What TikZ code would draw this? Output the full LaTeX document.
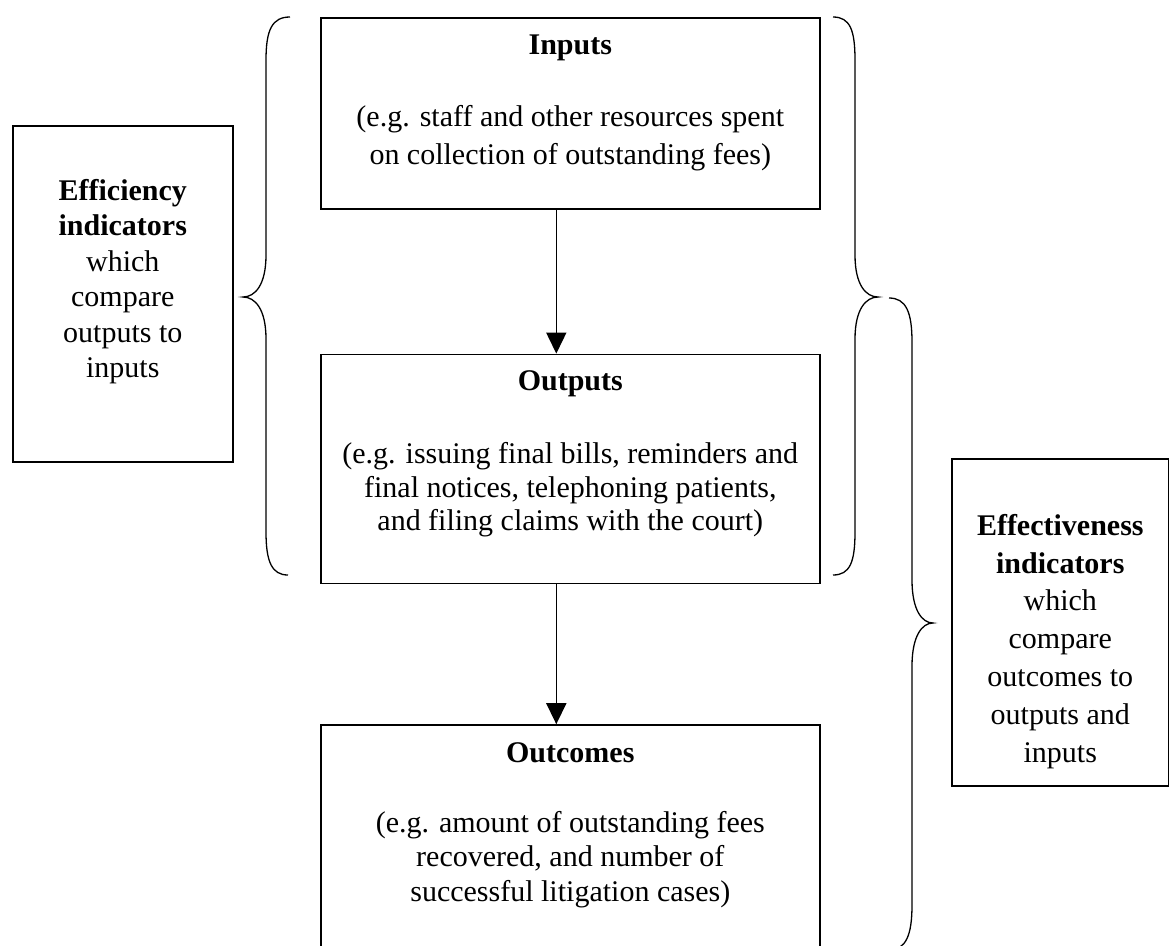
\documentclass[tikz,border=0pt]{standalone}
\usepackage{fontspec}
\setmainfont{Liberation Serif}
\usepackage{tikz}
\usetikzlibrary{arrows.meta, positioning, calc}

\begin{document}
\begin{tikzpicture}[x=1pt, y=-1pt, >={Triangle[width=20pt, length=21pt]}, every node/.style={font=\fontsize{30}{35.5}\selectfont}]
    % styles: plain framed boxes, text blocks and brace strokes
    \tikzset{
        frame/.style={draw, rectangle, line width=1.6pt, inner sep=0pt},
        stage/.style={frame, minimum width=499pt},
        txt/.style={align=center, inner sep=0pt, anchor=north},
        skip/.style={font=\fontsize{30}{#1}\selectfont},
        brc/.style={line width=1.3pt}
    }
    % page of the reference size
    \useasboundingbox (0,0) rectangle (1169,945);
    \fill[white] (0,0) rectangle (1169,945);
    % the three stage boxes
    \node[stage, minimum height=191pt, anchor=north west] (inputs) at (320,17) {};
    \node[stage, minimum height=229pt, below=144pt of inputs] (outputs) {};
    \node[stage, minimum height=260pt, below=140pt of outputs] (outcomes) {};
    % indicator boxes at the sides
    \node[frame, minimum width=220pt, minimum height=336pt, anchor=north west] (effic) at (12,125) {};
    \node[frame, minimum width=217pt, minimum height=327pt, anchor=north west] (effect) at (951,458) {};
    % texts, hung from the top of each box
    \node[txt, skip=38pt, below=18pt of inputs.north] (inputs-txt) {\textbf{Inputs}\\[34pt](e.g. staff and other resources spent\\on collection of outstanding fees)};
    \node[txt, skip=33.5pt, below=17pt of outputs.north] (outputs-txt) {\textbf{Outputs}\\[39.5pt](e.g. issuing final bills, reminders and\\final notices, telephoning patients,\\and filing claims with the court)};
    \node[txt, skip=34.5pt, below=18pt of outcomes.north] (outcomes-txt) {\textbf{Outcomes}\\[35.5pt](e.g. amount of outstanding fees\\recovered, and number of\\successful litigation cases)};
    \node[txt, skip=35.5pt, below=54pt of effic.north] (effic-txt) {\textbf{Efficiency}\\\textbf{indicators}\\which\\compare\\outputs to\\inputs};
    \node[txt, skip=37.8pt, below=56pt of effect.north] (effect-txt) {\textbf{Effectiveness}\\\textbf{indicators}\\which\\compare\\outcomes to\\outputs and\\inputs};
    % arrows between the stages, a little left of centre
    \draw[->, line width=1.6pt] ([xshift=-14pt]inputs.south) -- ([xshift=-14pt]outputs.north);
    \draw[->, line width=1.6pt] ([xshift=-14pt]outputs.south) -- ([xshift=-14pt]outcomes.north);
    % left brace over inputs and outputs
    \draw[brc] (290,17) .. controls (272,17) and (266,30) .. (266,60) -- (266,255) .. controls (266,285) and (255,297) .. (243,297) .. controls (255,297) and (266,309) .. (266,339) -- (266,532) .. controls (266,562) and (272,575) .. (288,575);
    % right brace over inputs and outputs
    \draw[brc] (833,17) .. controls (850,17) and (855,30) .. (855,60) -- (855,255) .. controls (855,285) and (866,297) .. (878,297) .. controls (866,297) and (855,309) .. (855,339) -- (855,532) .. controls (855,562) and (850,575) .. (833,575);
    % right brace over outputs and outcomes
    \draw[brc] (889,298) .. controls (906,298) and (912,312) .. (912,342) -- (912,580) .. controls (912,610) and (922,623) .. (933,623) .. controls (922,623) and (912,636) .. (912,666) -- (912,905) .. controls (912,935) and (906,950) .. (889,950);
\end{tikzpicture}
\end{document}
